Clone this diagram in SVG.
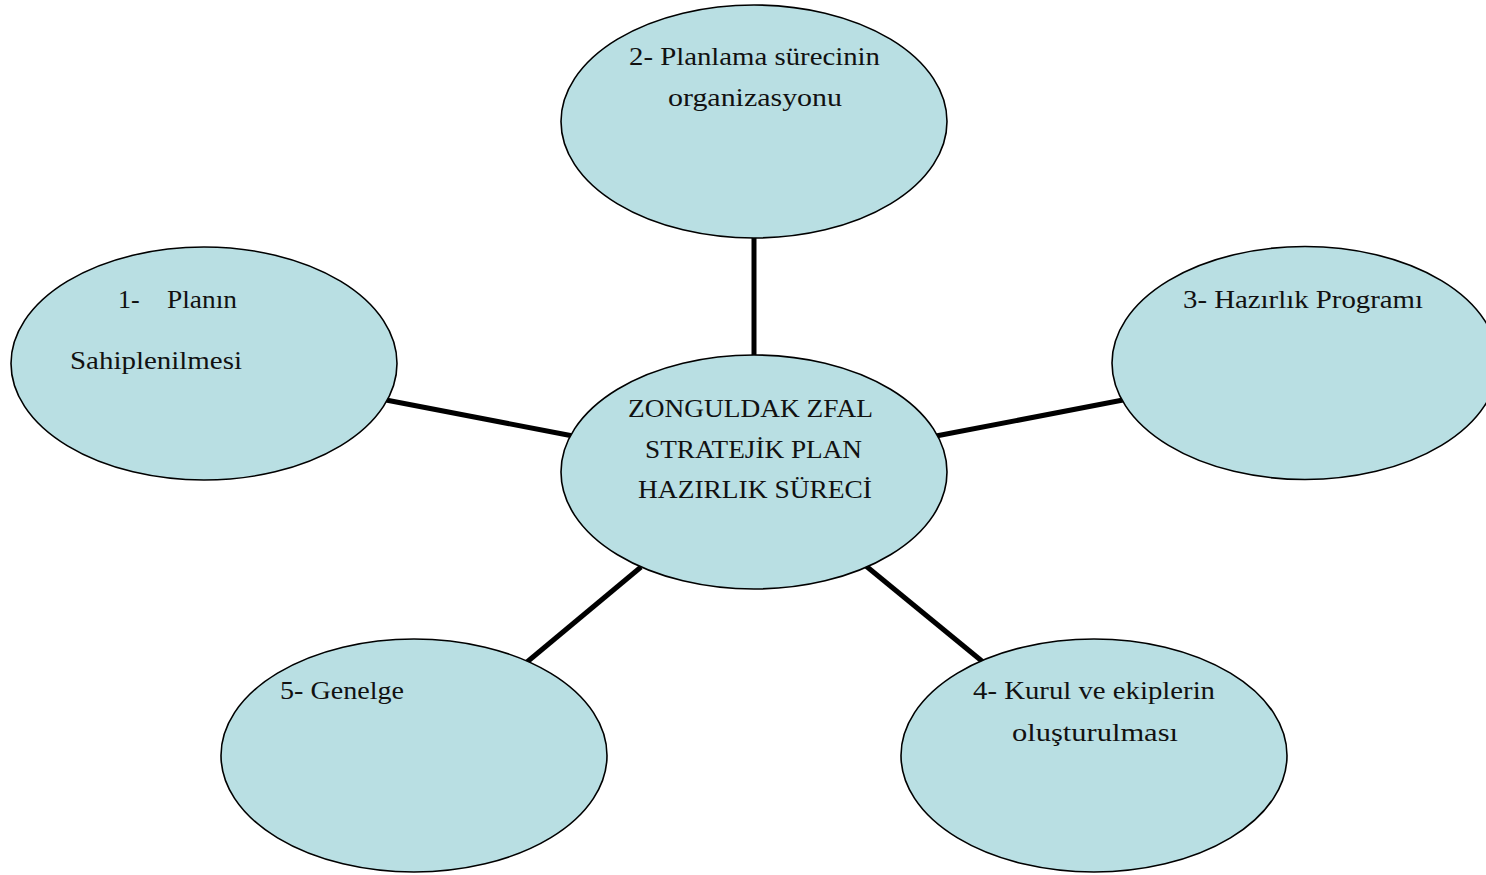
<svg xmlns="http://www.w3.org/2000/svg" width="1486" height="875" viewBox="0 0 1486 875">
<style>
.n{fill:#b9dfe3;stroke:#000;stroke-width:1.6}
.c{stroke:#000;stroke-width:5;fill:none}
text{font-family:"Liberation Serif","DejaVu Serif",serif;font-size:26px;fill:#111}
</style>
<rect width="1486" height="875" fill="#fff"/>
<g id="connectors">
<line class="c" x1="754" y1="236" x2="754" y2="357"/>
<line class="c" x1="386" y1="400" x2="573" y2="436"/>
<line class="c" x1="936" y1="436" x2="1123" y2="400"/>
<line class="c" x1="527" y1="662" x2="641" y2="567"/>
<line class="c" x1="866" y1="566" x2="983" y2="662"/>
</g>
<g id="center">
<ellipse class="n" cx="754" cy="472" rx="193" ry="117"/>
<text x="628" y="417" textLength="245" lengthAdjust="spacingAndGlyphs">ZONGULDAK ZFAL</text>
<text x="645" y="458" textLength="217" lengthAdjust="spacingAndGlyphs">STRATEJİK PLAN</text>
<text x="638" y="498" textLength="234" lengthAdjust="spacingAndGlyphs">HAZIRLIK SÜRECİ</text>
</g>
<g id="node2">
<ellipse class="n" cx="754" cy="121.5" rx="193" ry="116.5"/>
<text x="629" y="65" textLength="251" lengthAdjust="spacingAndGlyphs">2- Planlama sürecinin</text>
<text x="668" y="106" textLength="174" lengthAdjust="spacingAndGlyphs">organizasyonu</text>
</g>
<g id="node1">
<ellipse class="n" cx="204" cy="363.5" rx="193" ry="116.5"/>
<text x="118" y="308">1-</text>
<text x="167" y="308" textLength="70" lengthAdjust="spacingAndGlyphs">Planın</text>
<text x="70" y="369" textLength="172" lengthAdjust="spacingAndGlyphs">Sahiplenilmesi</text>
</g>
<g id="node3">
<ellipse class="n" cx="1305" cy="363" rx="193" ry="116.5"/>
<text x="1183" y="308" textLength="240" lengthAdjust="spacingAndGlyphs">3- Hazırlık Programı</text>
</g>
<g id="node5">
<ellipse class="n" cx="414" cy="755.5" rx="193" ry="116.5"/>
<text x="280" y="699" textLength="124" lengthAdjust="spacingAndGlyphs">5- Genelge</text>
</g>
<g id="node4">
<ellipse class="n" cx="1094" cy="755.5" rx="193" ry="116.5"/>
<text x="973" y="699" textLength="242" lengthAdjust="spacingAndGlyphs">4- Kurul ve ekiplerin</text>
<text x="1012" y="741" textLength="166" lengthAdjust="spacingAndGlyphs">oluşturulması</text>
</g>
</svg>
